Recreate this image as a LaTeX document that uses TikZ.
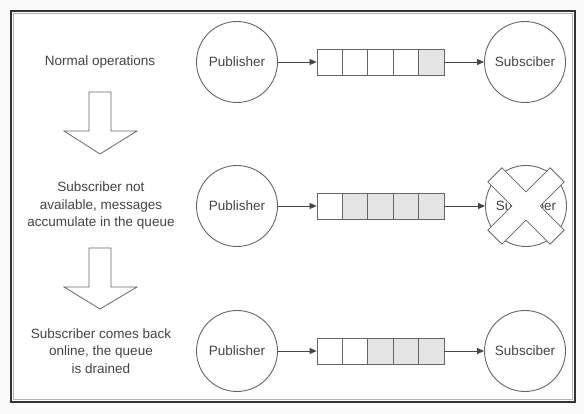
\documentclass[tikz,border=0pt]{standalone}
\usepackage{fontspec}
\setmainfont{Liberation Sans}
\usetikzlibrary{arrows.meta}
\definecolor{ink}{HTML}{444444}
\definecolor{lineg}{HTML}{666666}
\definecolor{cellg}{HTML}{E4E4E4}
\tikzset{
  every node/.style={font=\fontsize{13.5}{17.5}\selectfont, text=ink},
  party/.style={circle, draw=lineg, line width=0.9pt, minimum size=81pt, inner sep=0pt},
  cellbox/.style={rectangle, draw=lineg, line width=0.8pt, minimum width=25.4pt, minimum height=26pt, inner sep=0pt, fill=white},
  full/.style={fill=cellg},
  flow/.style={draw=ink, line width=0.8pt, -{Triangle[length=7pt,width=6pt]}},
  caption/.style={align=center},
  blockarrow/.style={draw=lineg, line width=0.8pt, fill=white},
}
\begin{document}
\begin{tikzpicture}[x=1pt,y=-1pt]
\useasboundingbox (0,0) rectangle (584,414);
\fill[white!98!black] (0,0) rectangle (584,414);
\fill[white] (11,11) rectangle (575,402);
\draw[draw=black!80, line width=2.2pt] (11,11) rectangle (575,402);
\draw[draw=black!30, line width=0.5pt] (13.5,13.5) rectangle (572.5,399.5);

% captions
\node[caption] (c1) at (100,62) {Normal operations};
\node[caption] (c2) at (101,206) {Subscriber not\\available, messages\\accumulate in the queue};
\node[caption] (c3) at (101,351) {Subscriber comes back\\online, the queue\\is drained};

% block arrows
\draw[blockarrow] (89,92) -- (111,92) -- (111,131) -- (137,131) -- (100,154) -- (64,131) -- (89,131) -- cycle;
\draw[blockarrow] (89,248) -- (111,248) -- (111,287) -- (137,287) -- (100,309) -- (64,287) -- (89,287) -- cycle;

% row 1
\node[party] (p1) at (237,62) {Publisher};
\node[party] (s1) at (525,62) {Subsciber};
\node[cellbox] (q11) at (329.7,62) {};
\node[cellbox] (q12) at (355.1,62) {};
\node[cellbox] (q13) at (380.5,62) {};
\node[cellbox] (q14) at (405.9,62) {};
\node[cellbox,full] (q15) at (431.3,62) {};
\draw[flow] (p1) -- (q11);
\draw[flow] (q15) -- (s1);

% row 2
\node[party] (p2) at (237,206) {Publisher};
\node[party] (s2) at (526,206) {Subsciber};
\node[cellbox] (q21) at (329.7,206) {};
\node[cellbox,full] (q22) at (355.1,206) {};
\node[cellbox,full] (q23) at (380.5,206) {};
\node[cellbox,full] (q24) at (405.9,206) {};
\node[cellbox,full] (q25) at (431.3,206) {};
\draw[flow] (p2) -- (q21);
\draw[flow] (q25) -- (s2);
% cross over subscriber
\draw[draw=lineg, line width=0.8pt, fill=white, rotate around={45:(526,206)}, shift={(526,206)}]
  (44,10) -- (10,10) -- (10,44) -- (-10,44) -- (-10,10) -- (-44,10) -- (-44,-10) -- (-10,-10)
  -- (-10,-44) -- (10,-44) -- (10,-10) -- (44,-10) -- cycle;

% row 3
\node[party] (p3) at (237,351) {Publisher};
\node[party] (s3) at (525,351) {Subsciber};
\node[cellbox] (q31) at (329.7,351) {};
\node[cellbox] (q32) at (355.1,351) {};
\node[cellbox,full] (q33) at (380.5,351) {};
\node[cellbox,full] (q34) at (405.9,351) {};
\node[cellbox,full] (q35) at (431.3,351) {};
\draw[flow] (p3) -- (q31);
\draw[flow] (q35) -- (s3);
\end{tikzpicture}
\end{document}
